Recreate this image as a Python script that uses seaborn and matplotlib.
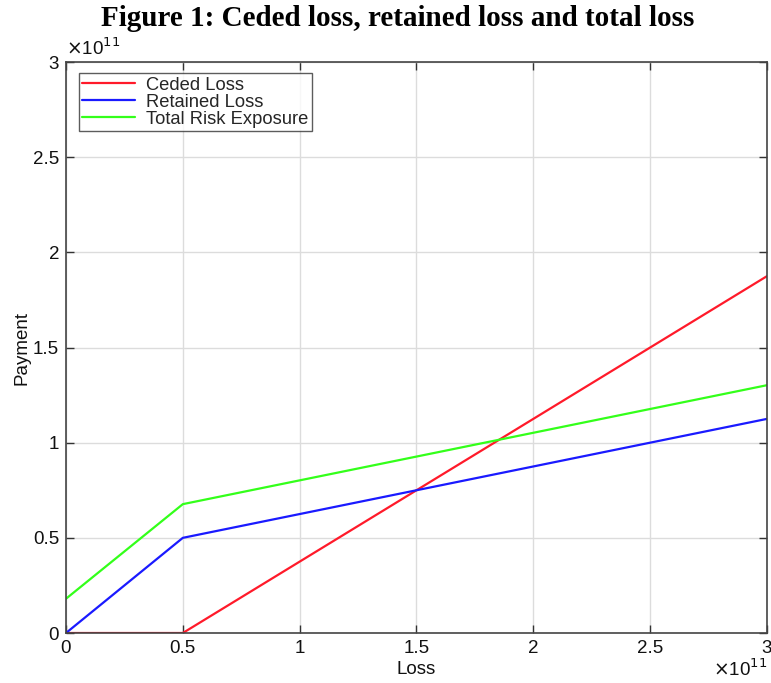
import matplotlib
matplotlib.use("Agg")
import matplotlib.pyplot as plt
import seaborn as sns
import pandas as pd
import numpy as np

# Data (in units of 1e11)
loss = [0.0, 0.5, 3.0]
ceded = [0.0, 0.0, 1.875]
retained = [0.0, 0.5, 1.125]
total = [0.18, 0.677, 1.302]
series_names = ["Ceded Loss", "Retained Loss", "Total Risk Exposure"]
colors = ["#ff1a2a", "#1a1aff", "#33ff1a"]
ticks = [0, 0.5, 1, 1.5, 2, 2.5, 3]
tick_labels = ["0", "0.5", "1", "1.5", "2", "2.5", "3"]

rows = []
for name, vals in zip(series_names, [ceded, retained, total]):
    for x, y in zip(loss, vals):
        rows.append({"Loss": x, "Payment": y, "Series": name})
df = pd.DataFrame(rows)

sns.set_theme(style="white")
plt.rcParams["font.family"] = ["Liberation Sans", "DejaVu Sans"]

fig = plt.figure(figsize=(7.71, 6.83), dpi=100)
ax = fig.add_axes([0.0856, 0.0732, 0.9092, 0.836])

sns.lineplot(data=df, x="Loss", y="Payment", hue="Series", hue_order=series_names,
             palette=colors, ax=ax, linewidth=1.6, estimator=None, sort=False)

ax.set_xlim(0, 3)
ax.set_ylim(0, 3)
ax.set_xticks(ticks)
ax.set_xticklabels(tick_labels)
ax.set_yticks(ticks)
ax.set_yticklabels(tick_labels)
ax.grid(True, color="#dcdcdc", linewidth=1.0)
ax.tick_params(direction="in", length=6, width=1.0, colors="#333333",
               labelsize=13.5, labelcolor="#111111", top=True, right=True,
               bottom=True, left=True, pad=5)
for s in ax.spines.values():
    s.set_visible(True)
    s.set_color("#444444")
    s.set_linewidth(1.2)

ax.set_xlabel("Loss", fontsize=13.5, color="#111111", labelpad=3)
ax.set_ylabel("Payment", fontsize=13.5, color="#111111", labelpad=2)

ax.text(0.0, 1.005, r"$\times$10$^{11}$", transform=ax.transAxes, fontsize=13.5,
        ha="left", va="bottom", color="#111111")
ax.text(1.0, -0.045, r"$\times$10$^{11}$", transform=ax.transAxes, fontsize=13.5,
        ha="right", va="top", color="#111111")

leg = ax.legend(loc="upper left", bbox_to_anchor=(0.018, 0.981), fontsize=13.2,
                frameon=True, fancybox=False, borderpad=0.2, labelspacing=0.0,
                handlelength=2.9, handletextpad=0.6, borderaxespad=0.0)
leg.get_frame().set_edgecolor("#333333")
leg.get_frame().set_linewidth(1.0)

fig.text(0.516, 0.973, "Figure 1: Ceded loss, retained loss and total loss",
         family=["Liberation Serif", "DejaVu Serif"], fontweight="bold",
         fontsize=21, ha="center", va="center", color="black")

fig.savefig("out.png", dpi=100)
